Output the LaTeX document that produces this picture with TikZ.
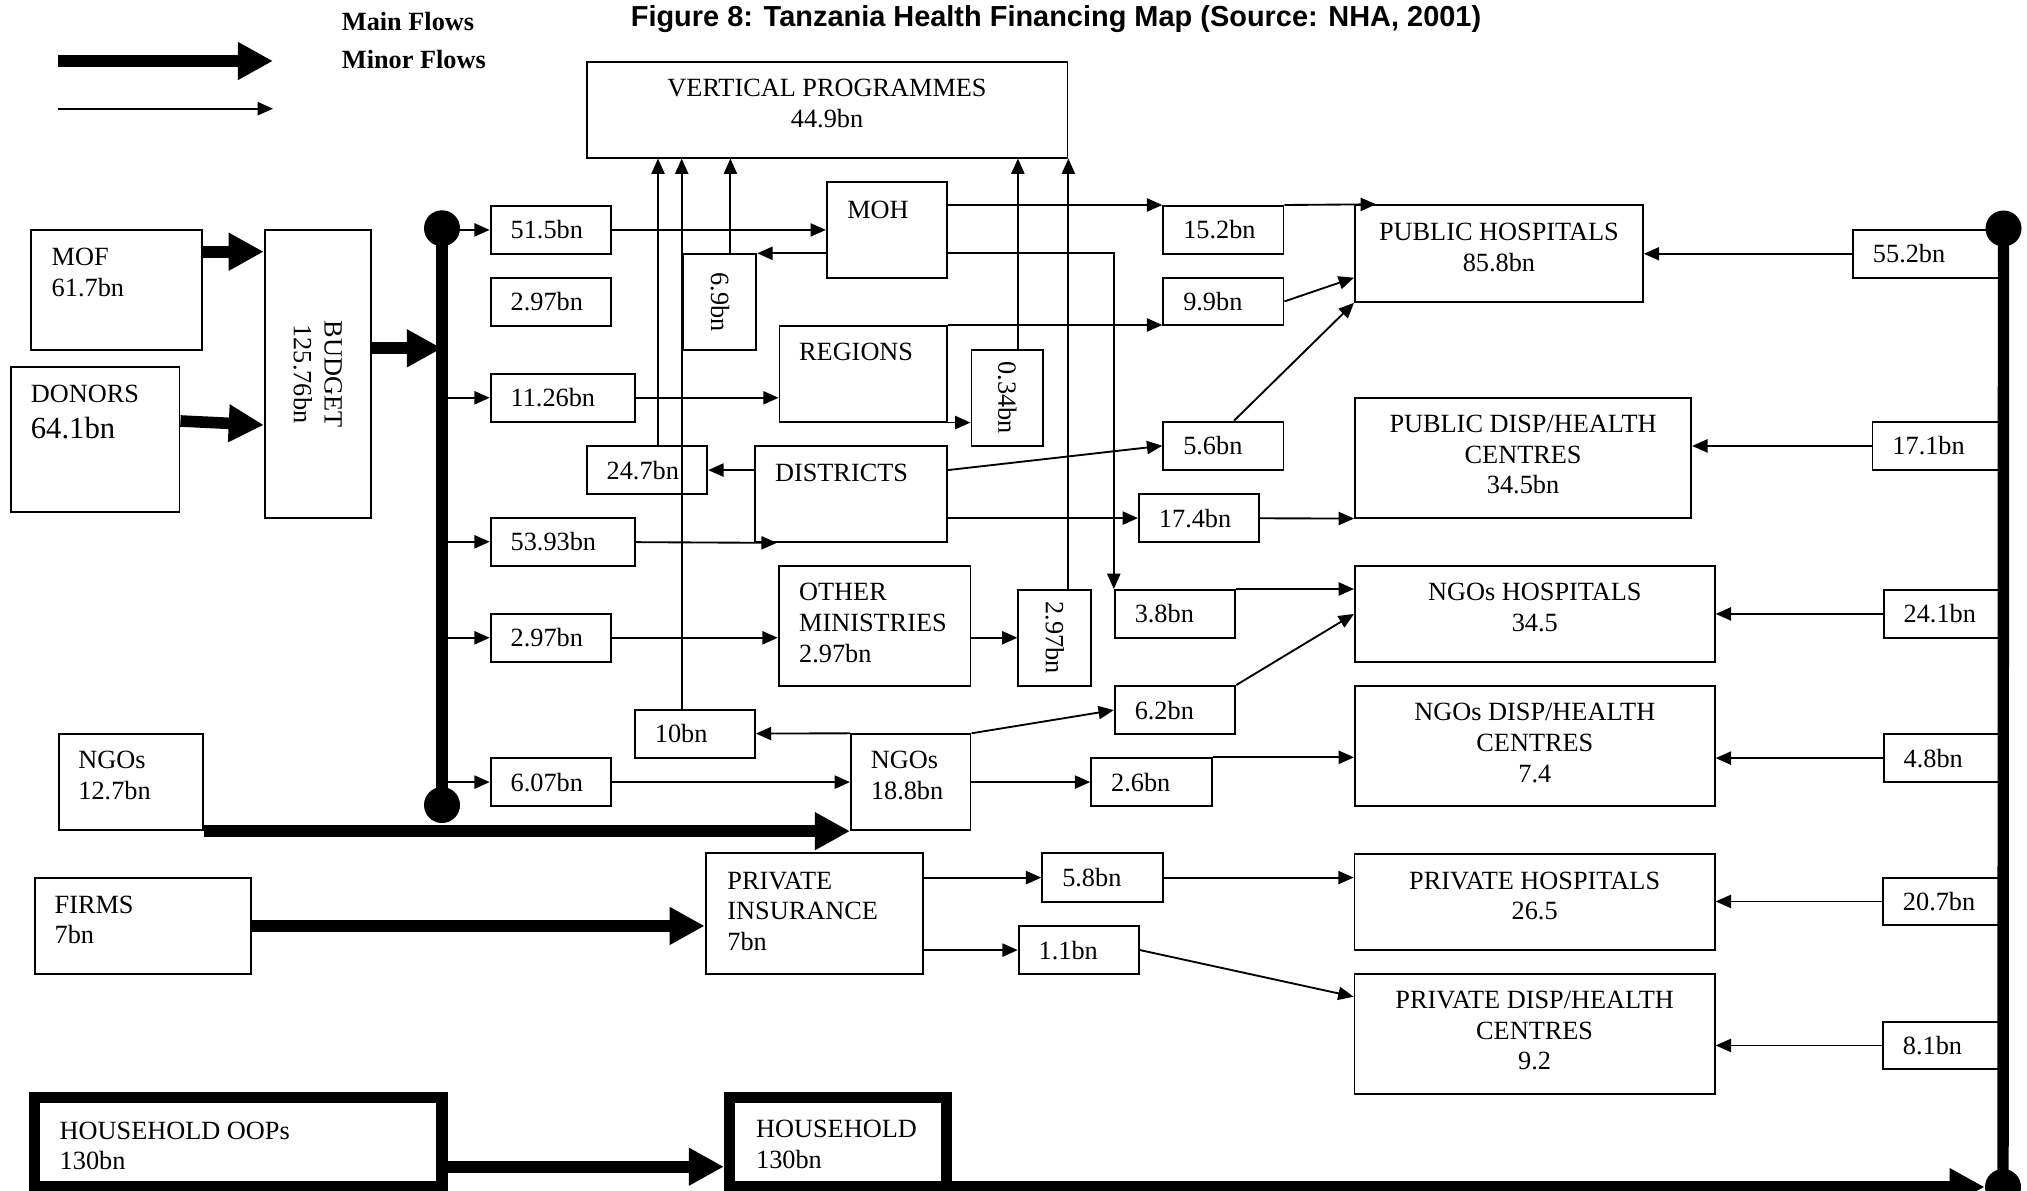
\documentclass[tikz,border=0pt]{standalone}
\usepackage{fontspec}
\setmainfont{Liberation Serif}
\newfontfamily\titlefont{Liberation Sans}
\usepackage{graphicx}
\usetikzlibrary{arrows.meta,calc}
\newcommand{\pxu}{0.4563pt}

\begin{document}
\begin{tikzpicture}[
    x=\pxu, y=-\pxu,
    every node/.style={font=\fontsize{12}{14}\selectfont},
    flow/.style={line width=0.85pt, -{Triangle[length=7pt, width=6pt]}},
    main/.style={line width=5.3pt, -{Triangle[length=16pt, width=16.2pt]}},
    bus/.style={line width=5.2pt},
    blk/.style 2 args={draw, line width=0.85pt, anchor=north west, inner sep=0pt,
        minimum width=#1*\pxu, minimum height=#2*\pxu},
    hblk/.style 2 args={blk={#1}{#2}, line width=5.25pt},
    vamt/.style 2 args={blk={#1}{#2}},
    amt/.style 2 args={draw, line width=0.85pt, anchor=north west, align=left,
        inner xsep=9.13pt, inner ysep=0pt, text width=(#1-40)*\pxu,
        minimum height=#2*\pxu},
    txt/.style={anchor=north west, align=left, inner sep=0pt},
    ctxt/.style={anchor=north, align=center, inner sep=0pt},
    dot/.style={circle, fill, inner sep=0pt, minimum size=36*\pxu},
    legend/.style={anchor=west, inner sep=0pt, font=\bfseries\fontsize{12}{14}\selectfont},
]
\useasboundingbox (0,0) rectangle (2027,1191);

\node[anchor=base, inner sep=0pt, font=\titlefont\bfseries\fontsize{13.2}{15}\selectfont]
    (title) at (1056,26.7) {Figure 8: Tanzania Health Financing Map (Source: NHA, 2001)};
\node[legend] (mainlab) at (341.5,21.7) {Main Flows};
\node[legend] (minorlab) at (341.5,60) {Minor Flows};
\coordinate (mainA) at (58,61);
\coordinate (mainB) at (273,61);
\coordinate (minorA) at (58,108.7);
\coordinate (minorB) at (273,108.7);
\draw[main] (mainA) -- (mainB);
\draw[flow] (minorA) -- (minorB);

% sources
\node[blk={170.5}{120.6}] (mof) at (30.4,228.7) {};
\node[txt] (moft) at (51.3,248) {MOF\\61.7bn};
\node[blk={168.8}{145}] (donors) at (9.8,365.7) {};
\node[txt] (donorst) at (30.4,384.6) {DONORS\\[2.6pt]{\fontsize{14}{16}\selectfont 64.1bn}};
\node[blk={106.2}{288}] (budget) at (263.8,228.7) {};
\node[rotate=-90, align=center, inner sep=0pt] (budgett) at (317.7,374) {BUDGET\\125.76bn};
\node[blk={144.2}{96}] (ngosrc) at (58,733.3) {};
\node[txt] (ngosrct) at (78,750.6) {NGOs\\12.7bn};
\node[blk={216.2}{96.6}] (firms) at (33.8,876.7) {};
\node[txt] (firmst) at (54.2,895.3) {FIRMS\\7bn};
\node[hblk={407.5}{89.5}] (hhoop) at (28.7,1091.7) {};
\node[txt] (hhoopt) at (59.3,1121.3) {HOUSEHOLD OOPs\\130bn};

% budget lines
\node[amt={120.6}{48.6}] (a515) at (489.7,204.7) {51.5bn};
\node[amt={120.6}{48.3}] (a297x) at (489.7,276.7) {2.97bn};
\node[amt={144.3}{48.3}] (a1126) at (489.7,372.7) {11.26bn};
\node[amt={120.6}{48.3}] (a247) at (585.7,445) {24.7bn};
\node[amt={144.3}{48.3}] (a5393) at (489.7,516.7) {53.93bn};
\node[amt={120.6}{48.3}] (a297) at (489.7,612.7) {2.97bn};
\node[amt={120}{47.7}] (a10) at (634,709) {10bn};
\node[amt={120.6}{47.7}] (a607) at (489.7,757.3) {6.07bn};

% agents
\node[blk={480.8}{95.7}] (vp) at (585.7,61) {};
\node[ctxt] (vpt) at ($(vp.north)+(0,17.6)$) {VERTICAL PROGRAMMES\\44.9bn};
\node[blk={120.1}{95.7}] (moh) at (825.9,181) {};
\node[txt] (moht) at (846.9,200.3) {MOH};
\node[vamt={72.8}{95.7}] (v69) at (682.6,253.3) {\rotatebox{-90}{6.9bn}};
\node[blk={167.4}{95.7}] (regions) at (778.6,325) {};
\node[txt] (regionst) at (798.7,343) {REGIONS};
\node[vamt={71.9}{96}] (v034) at (970.5,349) {\rotatebox{-90}{0.34bn}};
\node[blk={192}{96}] (districts) at (754,445) {};
\node[txt] (districtst) at (774.6,463.6) {DISTRICTS};
\node[blk={191.9}{120}] (othmin) at (777.7,565) {};
\node[txt] (othmint) at (798.7,583) {OTHER\\MINISTRIES\\2.97bn};
\node[vamt={72.8}{96}] (v297) at (1017.4,589) {\rotatebox{-90}{2.97bn}};
\node[blk={119.6}{96}] (ngomid) at (850,733.3) {};
\node[txt] (ngomidt) at (870.5,750.6) {NGOs\\18.8bn};
\node[blk={217.5}{121}] (pinsur) at (704.7,852.3) {};
\node[txt] (pinsurt) at (727,871.3) {PRIVATE\\INSURANCE\\7bn};
\node[hblk={216.7}{89.5}] (hh) at (723.9,1091.7) {};
\node[txt] (hht) at (755.7,1119.6) {HOUSEHOLD\\130bn};

\node[amt={120.2}{47.7}] (a152) at (1162.3,205) {15.2bn};
\node[amt={120.2}{47.6}] (a99) at (1162.3,276.7) {9.9bn};
\node[amt={120.2}{48.3}] (a56) at (1162.3,420.7) {5.6bn};
\node[amt={120}{47.7}] (a174) at (1138,493.3) {17.4bn};
\node[amt={120.6}{47.7}] (a38) at (1113.8,589) {3.8bn};
\node[amt={120.6}{48.3}] (a62) at (1113.8,685) {6.2bn};
\node[amt={120.5}{47.7}] (a26) at (1090.2,757.3) {2.6bn};
\node[amt={121.1}{48.7}] (a58) at (1041.3,852.3) {5.8bn};
\node[amt={120.5}{48.3}] (a11) at (1017.7,925) {1.1bn};

% providers
\node[blk={288}{96.7}] (pubh) at (1354,204.3) {};
\node[ctxt] (pubht) at ($(pubh.north)+(0,18.7)$) {PUBLIC HOSPITALS\\85.8bn};
\node[blk={336.3}{120}] (pubdhc) at (1354,396.7) {};
\node[ctxt] (pubdhct) at ($(pubdhc.north)+(0,17.9)$) {PUBLIC DISP/HEALTH\\CENTRES\\34.5bn};
\node[blk={359.8}{96}] (ngoh) at (1354,565) {};
\node[ctxt] (ngoht) at ($(ngoh.north)+(0,18)$) {NGOs HOSPITALS\\34.5};
\node[blk={359.8}{120}] (ngodhc) at (1354,685) {};
\node[ctxt] (ngodhct) at ($(ngodhc.north)+(0,18)$) {NGOs DISP/HEALTH\\CENTRES\\7.4};
\node[blk={360.2}{96.3}] (privh) at (1353.6,852.7) {};
\node[ctxt] (privht) at ($(privh.north)+(0,18.6)$) {PRIVATE HOSPITALS\\26.5};
\node[blk={360.2}{120.6}] (privdhc) at (1353.6,972.7) {};
\node[ctxt] (privdhct) at ($(privdhc.north)+(0,17.9)$) {PRIVATE DISP/HEALTH\\CENTRES\\9.2};
\node[amt={149.7}{47.7}] (a552) at (1852,229) {55.2bn};
\node[amt={130.3}{48}] (a171) at (1871.5,421) {17.1bn};
\node[amt={118.5}{47.4}] (a241) at (1882.7,589.3) {24.1bn};
\node[amt={118.5}{47.7}] (a48) at (1882.7,733.3) {4.8bn};
\node[amt={118.7}{47.6}] (a207) at (1882,876.7) {20.7bn};
\node[amt={118.7}{47.6}] (a81) at (1882,1020.7) {8.1bn};

\node[dot] (ltop) at (442,228.3) {};
\node[dot] (lbot) at (442,805) {};
\node[dot] (rtop) at (2003.5,228.5) {};
\node[dot] (rbot) at (2003,1187) {};

% minor flows
\foreach \b in {a515,a1126,a5393,a297,a607}
    \draw[flow] (ltop |- \b) -- (\b);
\draw[flow] (a515) -- (a515 -| moh.west);
\draw[flow] (moh.west |- v69.north) -- (v69.north east);
\draw[flow] (moh.east |- a152.north) -- (a152.north west);
\draw[flow] (a152.north east) -- ($(pubh.north west)+(22,0)$);
\draw[flow] (moh.east |- v69.north) -| (a38.north west);
\draw[flow] (regions.north east) -- (regions.north east -| a99.west);
\draw[flow] (a99.east) -- ($(pubh.north west)+(0,73.4)$);
\draw[flow] (a1126) -- (a1126 -| regions.west);
\draw[flow] (regions.south east) -- (regions.south east -| v034.west);
\draw[flow] (a247 -| districts.west) -- (a247);
\draw[flow] (a5393) -- ($(districts.south west)+(22.8,0)$);
\draw[flow] (districts.east |- a247) -- (a56.west);
\draw[flow] (districts.east |- a174) -- (a174.west);
\draw[flow] ($(a56.north west)+(71.7,0)$) -- (pubh.south west);
\draw[flow] (a174) -- (pubdhc.south west);
\draw[flow] (a297) -- (a297 -| othmin.west);
\draw[flow] (othmin.east |- a297) -- (a297 -| v297.west);
\draw[flow] (a38.north east) -- (a38.north east -| ngoh.west);
\draw[flow] (a62.north east) -- (ngoh.west);
\draw[flow] (ngomid.north east) -- (a62.west);
\draw[flow] (ngomid.north west) -- (a10);
\draw[flow] (a607) -- (a607 -| ngomid.west);
\draw[flow] (ngomid.east |- a26) -- (a26.west);
\draw[flow] (a26.north east) -- (a26.north east -| ngodhc.west);
\draw[flow] (pinsur.east |- a58) -- (a58.west);
\draw[flow] (pinsur.east |- a11) -- (a11.west);
\draw[flow] (a58) -- (a58 -| privh.west);
\draw[flow] (a11.east) -- ($(privdhc.north west)+(0,24)$);
\foreach \a/\t in {a552/pubh,a171/pubdhc,a241/ngoh,a48/ngodhc,a207/privh,a81/privdhc}
    \draw[flow] (\a) -- (\a -| \t.east);

% up to vertical programmes
\draw[flow] ($(a247.north west)+(72.3,0)$) coordinate (a247o) -- (a247o |- vp.south);
\draw[flow] ($(a10.north west)+(47.7,0)$) coordinate (a10o) -- (a10o |- vp.south);
\draw[flow] ($(v69.north west)+(47.8,0)$) coordinate (v69o) -- (v69o |- vp.south);
\draw[flow] ($(v034.north west)+(47.4,0)$) coordinate (v034o) -- (v034o |- vp.south);
\draw[flow] (vp.south east |- v297.north) -- (vp.south east);

% main flows
\draw[bus] (ltop.center) -- (lbot.center);
\draw[bus] (rtop.center) -- (rbot.center);
\draw[main] ($(mof.north east)+(0,23)$) coordinate (mofo) -- (mofo -| budget.west);
\draw[main] ($(donors.north east)+(0,55.3)$) -- ($(budget.north west)+(0,196.3)$);
\draw[main] ($(budget.north east)+(0,119.6)$) coordinate (budo) -- (budo -| ltop);
\draw[main] (ngosrc.south east) -- (ngomid.south west);
\draw[main] (firms) -- (firms -| pinsur.west);
\draw[main] ($(hhoop.north east)+(0,75)$) coordinate (hhoo) -- (hhoo -| hh.west);
\draw[main] (hh.east |- rbot) -- (rbot);
\end{tikzpicture}
\end{document}
